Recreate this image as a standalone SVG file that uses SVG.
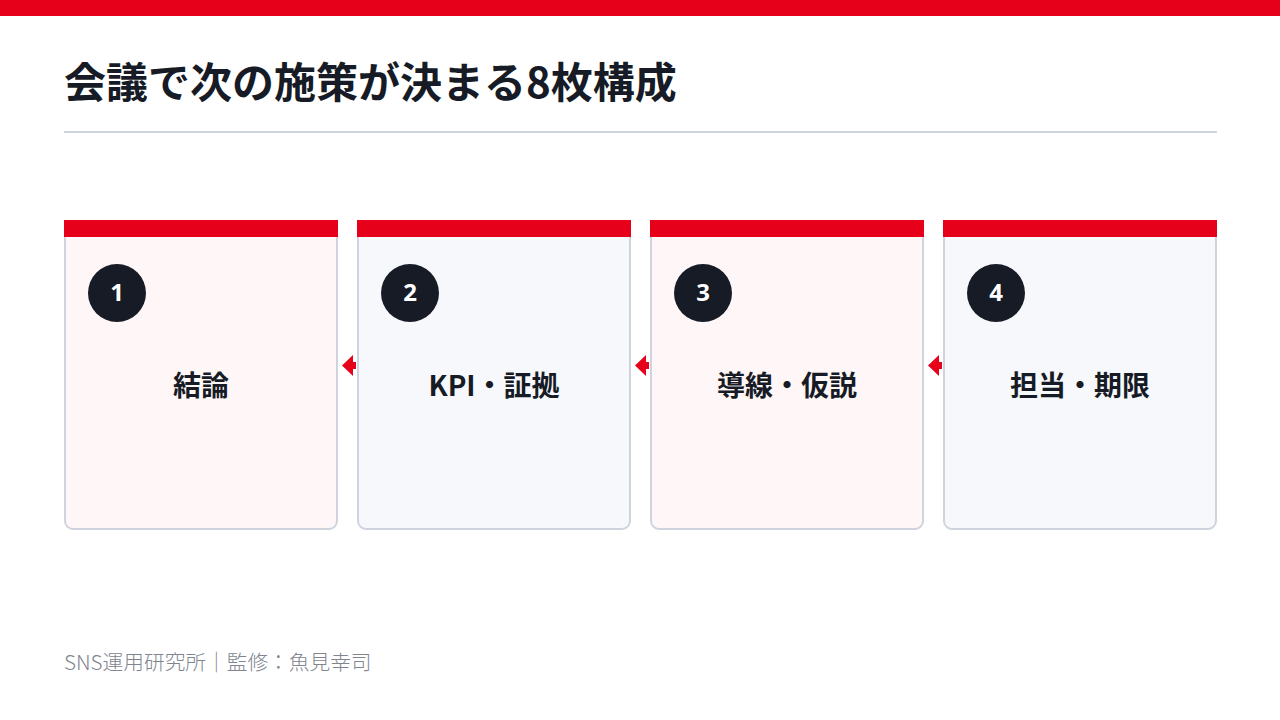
<svg xmlns="http://www.w3.org/2000/svg" width="1280" height="720" viewBox="0 0 1280 720">
<style>
.title{font-family:"Noto Sans CJK JP","Noto Sans",sans-serif;font-weight:700;font-size:42px;fill:#161b26}
.card{stroke:#cfd3de;stroke-width:2}
.odd{fill:#fff6f7}
.even{fill:#f7f8fc}
.bar{fill:#e60019}
.badge{fill:#161b26}
.num{font-family:"Noto Sans","Noto Sans CJK JP",sans-serif;font-weight:700;font-size:24px;fill:#ffffff;text-anchor:middle}
.label{font-family:"Noto Sans CJK JP","Noto Sans",sans-serif;font-weight:700;font-size:28px;fill:#161b26;text-anchor:middle}
.foot{font-family:"Noto Sans CJK JP","Noto Sans",sans-serif;font-weight:300;font-size:20.7px;fill:#80858f}
.arrow{fill:#e60019}
</style>
<rect x="0" y="0" width="1280" height="720" fill="#ffffff"/>
<rect x="0" y="0" width="1280" height="16" fill="#e60019"/>
<text class="title" x="64" y="98">会議で次の施策が決まる8枚構成</text>
<rect x="64" y="131" width="1153" height="2" fill="#cfd3de"/>

<g id="node1">
<rect class="card odd" x="65" y="221" width="272" height="308" rx="8"/>
<rect class="bar" x="64" y="220" width="274" height="17"/>
<circle class="badge" cx="117" cy="293" r="29"/>
<text class="num" x="117" y="301">1</text>
<text class="label" x="201" y="396">結論</text>
</g>
<g id="node2">
<rect class="card even" x="358" y="221" width="272" height="308" rx="8"/>
<rect class="bar" x="357" y="220" width="274" height="17"/>
<circle class="badge" cx="410" cy="293" r="29"/>
<text class="num" x="410" y="301">2</text>
<text class="label" x="494" y="396">KPI・証拠</text>
</g>
<g id="node3">
<rect class="card odd" x="651" y="221" width="272" height="308" rx="8"/>
<rect class="bar" x="650" y="220" width="274" height="17"/>
<circle class="badge" cx="703" cy="293" r="29"/>
<text class="num" x="703" y="301">3</text>
<text class="label" x="787" y="396">導線・仮説</text>
</g>
<g id="node4">
<rect class="card even" x="944" y="221" width="272" height="308" rx="8"/>
<rect class="bar" x="943" y="220" width="274" height="17"/>
<circle class="badge" cx="996" cy="293" r="29"/>
<text class="num" x="996" y="301">4</text>
<text class="label" x="1080" y="396">担当・期限</text>
</g>

<g id="connectors">
<rect class="arrow" x="352" y="362" width="4" height="7"/>
<polygon class="arrow" points="353,355 353,376 342,365.5"/>
<rect class="arrow" x="645" y="362" width="4" height="7"/>
<polygon class="arrow" points="646,355 646,376 635,365.5"/>
<rect class="arrow" x="938" y="362" width="4" height="7"/>
<polygon class="arrow" points="939,355 939,376 928,365.5"/>
</g>

<text class="foot" x="64" y="670">SNS運用研究所｜監修：魚見幸司</text>
</svg>
